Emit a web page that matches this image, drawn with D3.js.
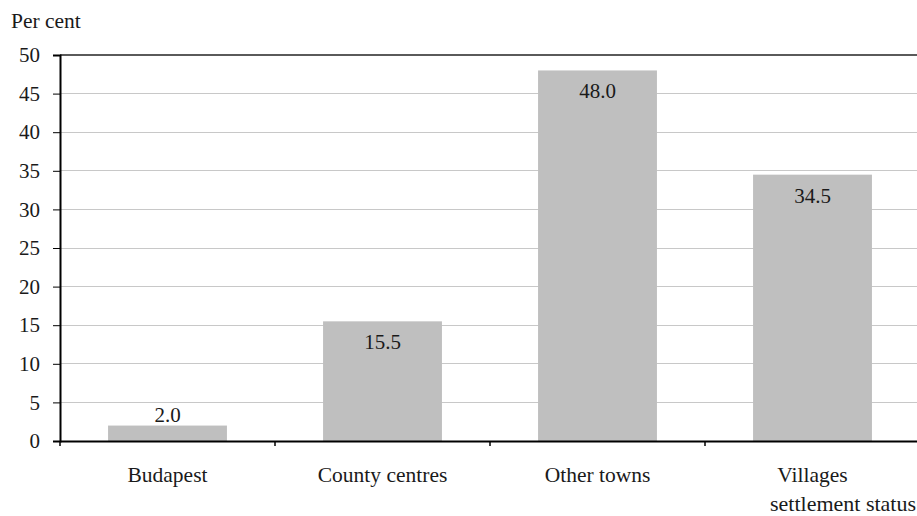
<!DOCTYPE html>
<html><head><meta charset="utf-8">
<script src="https://cdn.jsdelivr.net/npm/d3@7"></script>
<style>body{margin:0;background:#fff;}</style></head>
<body><svg id="c" width="917" height="516"></svg>
<script>
const categories = ["Budapest","County centres","Other towns","Villages"];
const values = [2.0, 15.5, 48.0, 34.5];
const yTicks = [0,5,10,15,20,25,30,35,40,45,50];
const yTitle = "Per cent";
const xTitle = "settlement status";

(function(){
const FONT = '"Liberation Serif"';
const svg = d3.select("#c");
const mLeft = 60, mRight = 920, mTop = 55, mBottom = 441;
const x = d3.scaleBand().domain(categories).range([mLeft, mRight]).padding(0);
const y = d3.scaleLinear().domain([0, 50]).range([mBottom, mTop]);
const barW = x.bandwidth() * 0.553;

svg.append("g").selectAll("line").data(yTicks.filter(d => d > 0)).join("line")
  .attr("x1", mLeft).attr("x2", mRight)
  .attr("y1", d => y(d)).attr("y2", d => y(d))
  .attr("stroke", d => d === 50 ? "#5a5a5a" : "#c8c8c8")
  .attr("stroke-width", d => d === 50 ? 1.5 : 1)
  .attr("shape-rendering", "crispEdges");

svg.append("g").selectAll("rect").data(values).join("rect")
  .attr("x", (d, i) => x(categories[i]) + (x.bandwidth() - barW) / 2)
  .attr("width", barW)
  .attr("y", d => y(d))
  .attr("height", d => mBottom - y(d))
  .attr("fill", "#bfbfbf");

svg.append("g").selectAll("text").data(values).join("text")
  .attr("x", (d, i) => x(categories[i]) + x.bandwidth() / 2)
  .attr("y", d => (mBottom - y(d)) < 30 ? y(d) - 4 : y(d) + 28)
  .attr("text-anchor", "middle")
  .style("font-family", FONT).style("font-size", "21px").style("fill", "#1a1a1a")
  .text(d => d.toFixed(1));

const yAxis = svg.append("g").attr("transform", `translate(${mLeft},0)`)
  .call(d3.axisLeft(y).tickValues(yTicks).tickSize(7).tickPadding(13).tickFormat(d3.format("d")));
yAxis.attr("font-family", null);
yAxis.select(".domain").attr("stroke", "#000").attr("stroke-width", 2);
yAxis.selectAll(".tick line").attr("stroke", "#000").attr("stroke-width", 1);
yAxis.selectAll(".tick text").style("font-family", FONT).style("font-size", "21px").style("fill", "#1a1a1a");

const xAxis = svg.append("g").attr("transform", `translate(0,${mBottom})`)
  .call(d3.axisBottom(x).tickSize(0).tickPadding(26));
xAxis.attr("font-family", null);
xAxis.select(".domain").attr("stroke", "#000").attr("stroke-width", 2);
xAxis.selectAll(".tick text").style("font-family", FONT).style("font-size", "21.5px").style("fill", "#1a1a1a");

svg.append("g").selectAll("line").data(categories).join("line")
  .attr("x1", d => x(d)).attr("x2", d => x(d))
  .attr("y1", mBottom).attr("y2", mBottom + 5)
  .attr("stroke", "#000").attr("stroke-width", 1.5);

svg.append("text").attr("x", 11).attr("y", 28)
  .style("font-family", FONT).style("font-size", "21.5px").style("fill", "#1a1a1a").text(yTitle);
svg.append("text").attr("x", 916).attr("y", 511).attr("text-anchor", "end")
  .style("font-family", FONT).style("font-size", "22px").style("fill", "#1a1a1a").text(xTitle);
})();
</script></body></html>
